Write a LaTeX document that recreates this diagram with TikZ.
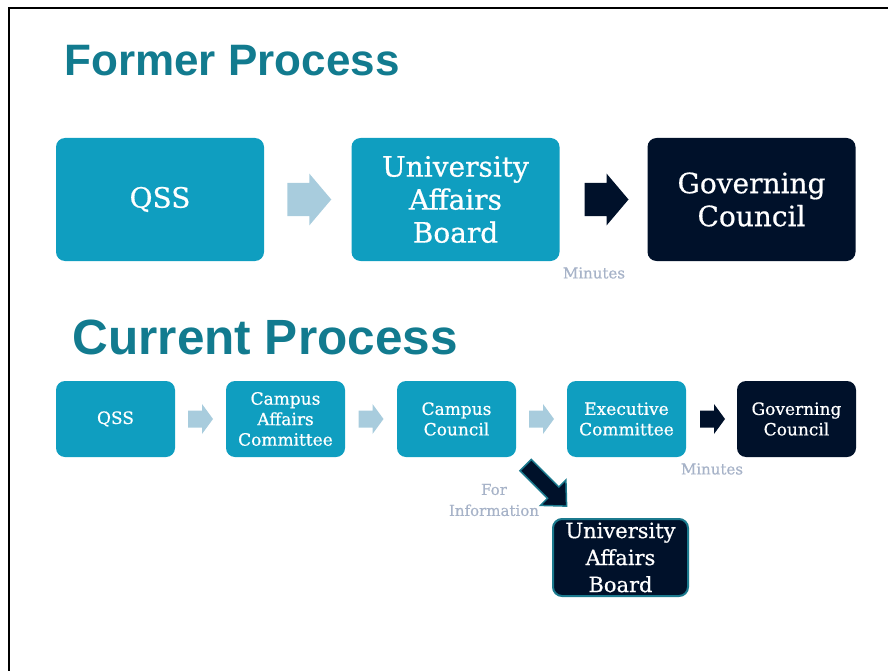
\documentclass[tikz,border=0pt]{standalone}
\usepackage{fontspec}
\setmainfont{DejaVu Serif}[FakeBold=0.6]
\newfontfamily\titlefont{Liberation Sans}
\usetikzlibrary{calc}

\definecolor{titleteal}{HTML}{127B8F}
\definecolor{boxteal}{HTML}{0F9EC0}
\definecolor{boxnavy}{HTML}{00112A}
\definecolor{arrowlight}{HTML}{A8CCDD}
\definecolor{notegray}{HTML}{A7B3C8}
\definecolor{bordteal}{HTML}{1B7A8E}

\begin{document}
\begin{tikzpicture}[x=1pt, y=-1pt, box/.style={
		% The shape:
		rectangle, rounded corners=9pt,
		% The text
		text=white, align=center, inner sep=0pt},
	lightbox/.style={box, fill=boxteal},
	darkbox/.style={box, fill=boxnavy},
	bigbox/.style={minimum width=208pt, minimum height=123pt, font=\fontsize{28}{33}\selectfont},
	smallbox/.style={minimum width=119pt, minimum height=76pt, font=\fontsize{17}{20.5}\selectfont},
	notetext/.style={text=notegray, align=center, font=\fontsize{15}{21}\selectfont},
	heading/.style={anchor=base west, text=titleteal, font=\titlefont\bfseries\fontsize{44}{44}\selectfont},
	pics/blockarr/.style n args={4}{code={
		\path[pic actions] (-#1/2,-#2/2) -- (#1/2-#4,-#2/2) -- (#1/2-#4,-#3/2) -- (#1/2,0)
		  -- (#1/2-#4,#3/2) -- (#1/2-#4,#2/2) -- (-#1/2,#2/2) -- cycle;}}]
    \useasboundingbox (0,0) rectangle (888,671);
    \draw [line width=2pt] (9,671) -- (9,8) -- (888,8);

    % Former process
    \node [heading] (former) at (61,76) {Former Process};
    \node [lightbox, bigbox] (qss) at (160,199.5) {QSS};
    \node [lightbox, bigbox] (uab) at (455.5,199.5) {University\\Affairs\\Board};
    \node [darkbox, bigbox] (gc) at (751.5,199.5) {Governing\\Council};
    \pic [fill=arrowlight] at ($(qss.east)!.5!(uab.west)+(1.5,0)$) {blockarr={44}{33}{52}{22}};
    \pic [fill=boxnavy] at ($(uab.east)!.5!(gc.west)+(3,0)$) {blockarr={44}{33}{52}{22}};
    \node [notetext] (minutes) at (594,273) {Minutes};

    % Current process
    \node [heading, font=\titlefont\bfseries\fontsize{49.5}{49.5}\selectfont] (current) at (69,354) {Current Process};
    \foreach \n/\x/\t in {q/115.5/QSS, cac/285.5/{Campus\\Affairs\\Committee}, cc/456.5/{Campus\\Council}, ec/626.5/{Executive\\Committee}}{
      \node [lightbox, smallbox] (\n) at (\x,419) {\t};
    }
    \node [darkbox, smallbox] (gc2) at (796.5,419) {Governing\\Council};
    \foreach \a/\b in {q/cac, cac/cc, cc/ec}{
      \pic [fill=arrowlight] at ($(\a.east)!.5!(\b.west)$) {blockarr={25}{17}{30}{11}};
    }
    \pic [fill=boxnavy] at ($(ec.east)!.5!(gc2.west)+(1,0)$) {blockarr={25}{17}{30}{11}};
    \node [notetext] (minutes2) at (712,469) {Minutes};

    \node [darkbox, draw=bordteal, line width=2pt, minimum width=135pt, minimum height=77pt,
      font=\fontsize{21}{27}\selectfont] (uab2) at (620.5,557.5) {University\\Affairs\\Board};
    \pic [fill=boxnavy, draw=bordteal, line width=1.5pt, rotate=-45]
      at ($(cc.south east)!.5!(uab2.north west)+(12,-2)$) {blockarr={58}{16}{36}{19}};
    \node [notetext] (info) at (494,500) {For\\Information};

    \end{tikzpicture}
\end{document}
